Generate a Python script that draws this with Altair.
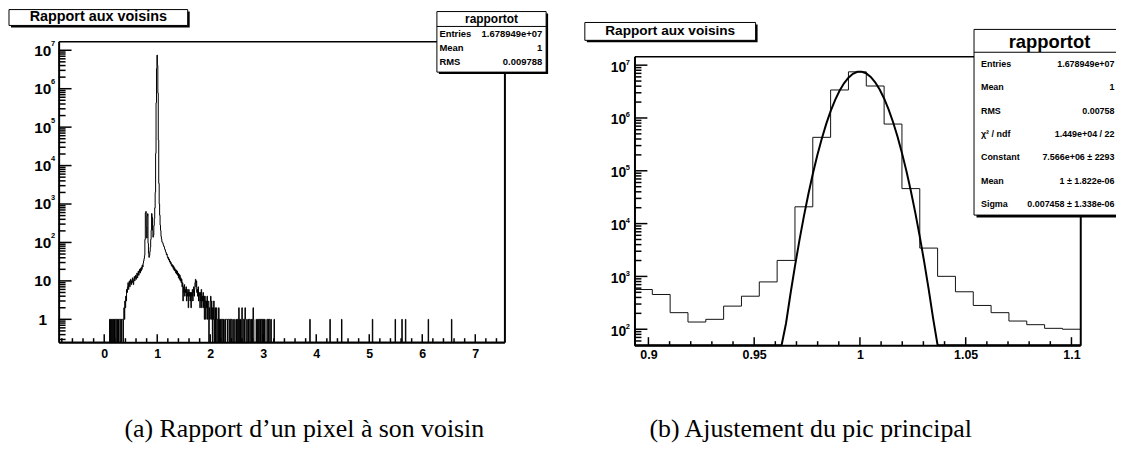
import altair as alt
import pandas as pd

FONT = "Liberation Sans"
SERIF = "Liberation Serif"

# ---------------- histogram "rapportot" (1000 bins) ----------------
BIN_WIDTH = 0.00843
BIN_ORIGIN = -0.8516
N_BINS = 1000

COMB_FIRST_BIN = 113
comb_counts = [1, 0, 1, 1, 0, 1, 0, 1, 1, 0, 1, 0, 1, 1, 0, 1,
               1, 0, 1, 0, 1, 1, 1, 0, 1, 1, 0, 1, 1, 1, 0, 1]

RISE_FIRST_BIN = 145
rise_counts = [2, 1, 3, 2, 4, 3, 6, 5, 7, 9,
               6, 8, 10, 7, 9, 11, 8, 10, 9, 12,
               10, 8, 11, 13, 10, 12, 14, 11, 13, 16,
               12, 15, 18, 14, 17, 20, 16, 21, 18, 23,
               20, 26, 23, 29, 33, 38, 46, 120, 590, 640,
               260, 130, 480, 560, 95, 52, 41, 46, 58, 75,
               120, 210]

PEAK_FIRST_BIN = 207
peak_counts = [565, 455, 206, 137, 154, 274, 422, 787, 2010, 20800,
               430000, 3390000, 7480000, 4030000, 767000, 46000, 3440, 1004,
               512, 282, 206, 143, 122, 104, 100]

DECAY_FIRST_BIN = 232
decay_counts = [95, 86, 80, 76, 68, 64, 57, 55, 48, 50,
                43, 39, 41, 35, 37, 31, 33, 28, 30, 25,
                27, 23, 26, 21, 24, 19, 22, 18, 20, 16,
                19, 15, 18, 14, 16, 12, 15, 11, 14, 10,
                12, 9, 11, 7, 9, 3, 7, 5, 8, 4,
                6, 5, 7, 3, 6, 4, 5, 2, 6, 4,
                5, 3, 5, 2, 5, 4, 6, 3, 5, 7,
                4, 6, 9, 11, 7, 10, 5, 6, 4, 7,
                3, 5, 4, 2, 5, 3, 6, 2, 4, 3,
                5, 2, 4, 1, 4, 3, 1, 3, 2, 4,
                1, 3, 2, 0, 2, 1, 3, 4, 1, 3,
                2, 0, 2, 1, 3, 0, 1, 2, 0]

SPARSE_FIRST_BIN = 351
sparse_counts = [1, 2, 0, 1, 1, 0, 2, 1, 0, 1, 0, 1,
                 1, 0, 1, 1, 0, 1, 0, 0, 1, 0, 1, 1,
                 1, 1, 0, 1, 1, 1, 0, 1, 1, 0, 1, 1,
                 0, 0, 1, 0, 0, 0, 1, 0, 0, 0, 1, 0,
                 1, 1, 0, 2, 1, 0, 1, 0, 0, 1, 2, 1,
                 0, 1, 1, 0, 1, 2, 1, 0, 0, 1, 0, 0,
                 1, 0, 1, 1, 0, 0, 1, 0, 1, 1, 0, 2,
                 1, 0, 0, 0, 0, 0, 1, 0, 0, 1, 1, 0,
                 1, 1, 0, 1, 0, 1, 1, 0, 1, 1, 0, 1,
                 0, 1, 0, 0, 0, 0, 1, 1, 0, 1, 0, 1,
                 1, 0, 0, 1, 0, 0, 0, 0, 0, 0, 1, 0]

far_spikes = [3.88, 4.26, 4.48, 5.06, 5.49, 5.62, 5.69, 6.12, 6.55]

# Gaussian fit parameters (from the stats box)
fit_constant = 7.566e6
fit_mean = 1.0
fit_sigma = 0.007458
fit_npx = 100

# axes
left_major_x = [0, 1, 2, 3, 4, 5, 6, 7]
left_minor_x = [-0.8, -0.6, -0.4, -0.2, 0.2, 0.4, 0.6, 0.8, 1.2, 1.4, 1.6, 1.8,
                2.2, 2.4, 2.6, 2.8, 3.2, 3.4, 3.6, 3.8, 4.2, 4.4, 4.6, 4.8,
                5.2, 5.4, 5.6, 5.8, 6.2, 6.4, 6.6, 6.8, 7.2, 7.4]
left_decades = [1, 10, 100, 1e3, 1e4, 1e5, 1e6, 1e7]
left_minor_y = [m * 0.1 for m in range(3, 10)] + [m * 10 ** e for e in range(0, 7) for m in range(2, 10)]
right_major_x = [0.9, 0.95, 1.0, 1.05, 1.1]
right_minor_x = [0.91, 0.92, 0.93, 0.94, 0.96, 0.97, 0.98, 0.99,
                 1.01, 1.02, 1.03, 1.04, 1.06, 1.07, 1.08, 1.09]
right_decades = [100, 1e3, 1e4, 1e5, 1e6, 1e7]
right_minor_y = [60, 70, 80, 90] + [m * 10 ** e for e in range(2, 7) for m in range(2, 10)]

stats_left = [("Entries", "1.678949e+07"), ("Mean", "1"), ("RMS", "0.009788")]
stats_right = [("Entries", "1.678949e+07"), ("Mean", "1"), ("RMS", "0.00758"),
               ("\u03c7\u00b2 / ndf", "1.449e+04 / 22"),
               ("Constant", "7.566e+06 \u00b1  2293"),
               ("Mean", "1 \u00b1 1.822e-06"),
               ("Sigma", "0.007458 \u00b1 1.338e-06")]

# ---------------- build tables ----------------
counts = [0] * N_BINS
for first, vals in [(COMB_FIRST_BIN, comb_counts), (RISE_FIRST_BIN, rise_counts),
                    (PEAK_FIRST_BIN, peak_counts), (DECAY_FIRST_BIN, decay_counts),
                    (SPARSE_FIRST_BIN, sparse_counts)]:
    for k, v in enumerate(vals):
        counts[first + k] = v
for s in far_spikes:
    counts[int((s - BIN_ORIGIN) / BIN_WIDTH)] = 1

edges = [BIN_ORIGIN + i * BIN_WIDTH for i in range(N_BINS + 1)]

XL_DOM = [-0.86, 7.55]
YL_DOM = [0.2546, 1.708e7]
XR_DOM = [edges[PEAK_FIRST_BIN], edges[PEAK_FIRST_BIN + len(peak_counts)]]
YR_DOM = [50, 1.476e7]

left_df = pd.DataFrame({"x": edges[:N_BINS], "n": counts})
left_df = left_df[left_df["x"] <= XL_DOM[1]]
right_df = pd.DataFrame({
    "x": edges[PEAK_FIRST_BIN:PEAK_FIRST_BIN + len(peak_counts) + 1],
    "n": peak_counts + [peak_counts[-1]],
})

# ---------------- layout (chart pixel coordinates) ----------------
W, H = 1116, 436
XL_PIX = [51, 500]
YL_PIX = [335, 32]
XR_PIX = [631, 1080]
YR_PIX = [338, 47]
TICK_T = 1.5


def lin(dom, rng):
    return alt.Scale(domain=dom, range=rng, nice=False, zero=False)


def logs(dom, rng, clamp=False):
    kw = dict(type="log", domain=dom, range=rng, nice=False)
    if clamp:
        kw["clamp"] = True
    return alt.Scale(**kw)


BASE = dict(grid=False, title=None, labelFlush=False, labelOverlap=False,
            domainColor="black", tickColor="black", labelColor="black",
            labelFont=FONT, labelFontWeight="bold")


def ax(orient, offset, values=None, domain=False, dw=2, labels=False, **kw):
    d = dict(BASE, orient=orient, offset=offset, domain=domain, ticks=False,
             labels=labels, tickSize=0)
    if domain:
        d["domainWidth"] = dw
    if values is not None:
        d["values"] = values
    d.update(kw)
    return alt.Axis(**d)


def axis_layer(xs, ys, xa, ya):
    return alt.Chart(right_df).mark_point(opacity=0).encode(
        x=alt.X("x:Q", scale=xs, axis=xa),
        y=alt.Y("n:Q", scale=ys, axis=ya),
    )


def x_ticks(vals, xs, y_base, length):
    return alt.Chart(pd.DataFrame({"v": vals})).mark_tick(
        color="black", thickness=TICK_T, size=length, orient="vertical", opacity=1).encode(
        x=alt.X("v:Q", scale=xs, axis=None),
        y=alt.value(y_base - length / 2))


def y_ticks(vals, ys, x_base, length):
    return alt.Chart(pd.DataFrame({"v": vals})).mark_tick(
        color="black", thickness=TICK_T, size=length, orient="horizontal", opacity=1).encode(
        y=alt.Y("v:Q", scale=ys, axis=None),
        x=alt.value(x_base + length / 2))


one = pd.DataFrame({"k": [0]})


def text(s, x, y, size, align="left", weight="bold", font=FONT):
    return alt.Chart(one).mark_text(
        text=s, align=align, baseline="middle", fontSize=size,
        fontWeight=weight, font=font, color="black"
    ).encode(x=alt.value(x), y=alt.value(y))


def rect(x0, y0, x1, y1, fill, stroke=None, sw=1):
    kw = dict(fill=fill)
    if stroke:
        kw.update(stroke=stroke, strokeWidth=sw)
    return alt.Chart(one).mark_rect(**kw).encode(
        x=alt.value(x0), x2=alt.value(x1), y=alt.value(y0), y2=alt.value(y1))


def hline(x0, x1, y, sw=1):
    return alt.Chart(one).mark_rule(color="black", strokeWidth=sw).encode(
        x=alt.value(x0), x2=alt.value(x1), y=alt.value(y))


def shadow_box(x0, y0, x1, y1, d=2):
    return [rect(x0 + d, y0 + d, x1 + d, y1 + d, "black"),
            rect(x0, y0, x1, y1, "white", "black", 1)]


layers = []

# ---------- left panel ----------
xL = lin(XL_DOM, XL_PIX)
yL = logs(YL_DOM, YL_PIX)
left_axes = [
    (ax("bottom", YL_PIX[0] - H, left_major_x, domain=True, labels=True, format="~g",
        labelFontSize=12.5, labelPadding=5),
     ax("left", -XL_PIX[0], left_decades, domain=True, labels=True,
        labelExpr="datum.value < 5 ? '1' : '10'", labelAlign="center",
        labelPadding=16.5, labelFontSize=15.5)),
    (ax("top", -YL_PIX[1], domain=True, dw=1.5),
     ax("left", -XL_PIX[0], [v for v in left_decades if v >= 100], labels=True,
        labelExpr="'' + round(log(datum.value) / LN10)", labelAlign="right",
        labelPadding=4, labelOffset=-7, labelFontSize=7.5)),
    (None, ax("right", XL_PIX[1] - W, domain=True)),
]
for xa, ya in left_axes:
    layers.append(axis_layer(xL, yL, xa, ya))

layers.append(
    alt.Chart(left_df).transform_calculate(
        y=f"datum.n > 0 ? datum.n : {YL_DOM[0]}"
    ).mark_line(interpolate="step-after", color="black", strokeWidth=1).encode(
        x=alt.X("x:Q", scale=xL, axis=None),
        y=alt.Y("y:Q", scale=yL, axis=None),
    )
)
layers += [
    x_ticks(left_major_x, xL, YL_PIX[0], 8),
    x_ticks(left_minor_x, xL, YL_PIX[0], 4),
    y_ticks(left_decades, yL, XL_PIX[0], 13),
    y_ticks(left_minor_y, yL, XL_PIX[0], 7),
]

# ---------- right panel ----------
xR = lin(XR_DOM, XR_PIX)
yR = logs(YR_DOM, YR_PIX)
right_axes = [
    (ax("bottom", YR_PIX[0] - H, right_major_x, domain=True, labels=True, format="~g",
        labelFontSize=12.5, labelPadding=3),
     ax("left", -XR_PIX[0], right_decades, domain=True, labels=True,
        labelExpr="'10'", labelAlign="center", labelPadding=16.5,
        labelOffset=2, labelFontSize=14)),
    (ax("top", -YR_PIX[1], domain=True, dw=1.5),
     ax("left", -XR_PIX[0], right_decades, labels=True,
        labelExpr="'' + round(log(datum.value) / LN10)", labelAlign="right",
        labelPadding=5, labelOffset=-3, labelFontSize=7.5)),
    (None, ax("right", XR_PIX[1] - W, domain=True)),
]
for xa, ya in right_axes:
    layers.append(axis_layer(xR, yR, xa, ya))

layers.append(
    alt.Chart(right_df).mark_line(interpolate="step-after", color="#111", strokeWidth=1).encode(
        x=alt.X("x:Q", scale=xR, axis=None),
        y=alt.Y("n:Q", scale=yR, axis=None),
    )
)

fit_x0, fit_x1 = XR_DOM
layers.append(
    alt.Chart(alt.sequence(0, fit_npx + 1, as_="i")).transform_calculate(
        x=f"{fit_x0} + datum.i * {(fit_x1 - fit_x0) / fit_npx}"
    ).transform_calculate(
        y=f"{fit_constant} * exp(-0.5 * pow((datum.x - {fit_mean}) / {fit_sigma}, 2))"
    ).mark_line(color="black", strokeWidth=2).encode(
        x=alt.X("x:Q", scale=xR, axis=None),
        y=alt.Y("y:Q", scale=logs(YR_DOM, YR_PIX, clamp=True), axis=None),
    )
)
layers += [
    x_ticks(right_major_x, xR, YR_PIX[0], 8),
    x_ticks(right_minor_x, xR, YR_PIX[0], 4),
    y_ticks(right_decades, yR, XR_PIX[0], 13),
    y_ticks(right_minor_y, yR, XR_PIX[0], 7),
]

# ---------- title boxes ----------
layers += shadow_box(1, 0, 181, 16)
layers.append(text("Rapport aux voisins", 91, 8, 14.5, align="center"))
layers += shadow_box(581, 13, 753, 31)
layers.append(text("Rapport aux voisins", 667, 22, 13.7, align="center"))

# ---------- stats boxes ----------
layers += shadow_box(432, 2, 542, 63)
layers.append(hline(432, 542, 17))
layers.append(text("rapportot", 487, 10, 12, align="center"))
for i, (lab, val) in enumerate(stats_left):
    yy = 25 + i * 14
    layers.append(text(lab, 434.5, yy, 9.5))
    layers.append(text(val, 538, yy, 9.5, align="right"))

layers += shadow_box(973, 20, 1130, 207, d=2.5)
layers.append(hline(973, 1130, 43))
layers.append(text("rapportot", 1049, 33, 18.5, align="center"))
for i, (lab, val) in enumerate(stats_right):
    yy = 55 + i * 23.5
    layers.append(text(lab, 980, yy, 9))
    layers.append(text(val, 1114.5, yy, 9, align="right"))

# ---------- captions ----------
layers.append(text("(a) Rapport d\u2019un pixel \u00e0 son voisin", 298.5, 423, 26,
                   align="center", weight="normal", font=SERIF))
layers.append(text("(b) Ajustement du pic principal", 808.5, 423, 26,
                   align="center", weight="normal", font=SERIF))

chart = alt.layer(*layers).resolve_scale(
    x="independent", y="independent"
).resolve_axis(
    x="independent", y="independent"
).properties(
    width=W, height=H, padding=0, autosize=alt.AutoSizeParams(type="none")
).configure_view(stroke=None)

chart.save("out.html", embed_options={"renderer": "svg", "actions": False})
